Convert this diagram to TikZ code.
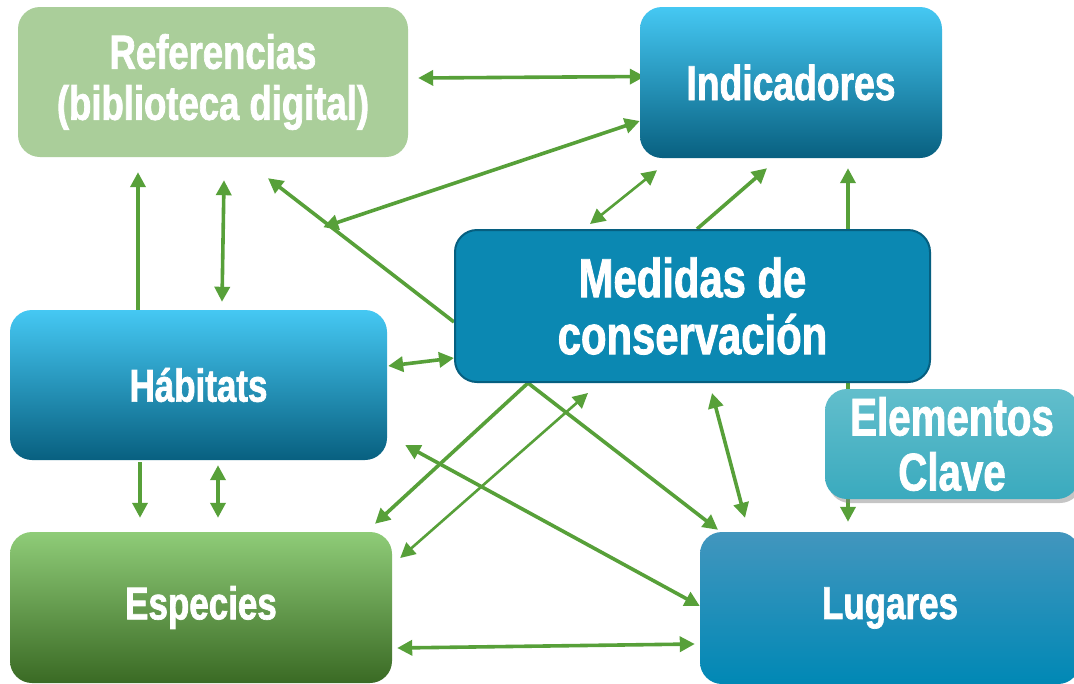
\documentclass[tikz,border=0pt]{standalone}
\usepackage{fontspec}
\newfontfamily\boxfont{Liberation Sans}[FakeStretch=0.76, BoldFeatures={FakeBold=1.5}]
\usetikzlibrary{arrows.meta,backgrounds,shadows}

\definecolor{refgreen}{RGB}{170,206,154}
\definecolor{linkgreen}{RGB}{87,160,57}
\definecolor{indtop}{RGB}{69,200,243}
\definecolor{indmid}{RGB}{16,150,196}
\definecolor{indbot}{RGB}{8,96,128}
\definecolor{medfill}{RGB}{11,136,178}
\definecolor{medline}{RGB}{6,95,128}
\definecolor{elemtop}{RGB}{98,190,204}
\definecolor{elembot}{RGB}{58,170,190}
\definecolor{esptop}{RGB}{143,204,120}
\definecolor{espmid}{RGB}{92,164,62}
\definecolor{espbot}{RGB}{58,106,36}
\definecolor{lugtop}{RGB}{66,150,190}
\definecolor{lugbot}{RGB}{0,136,181}

\tikzset{
  box/.style={rounded corners=22pt, inner sep=0pt, align=center,
    text=white, font=\boxfont\bfseries},
  link/.style={draw=linkgreen, line width=3.6pt},
  thinlink/.style={draw=linkgreen, line width=2.6pt},
  >={Triangle[length=15pt,width=15pt]}
}

\begin{document}
\begin{tikzpicture}[x=1pt,y=-1pt]
\useasboundingbox (0,0) rectangle (1074,683);
\clip (0,0) rectangle (1074,683);

% boxes
\node[box, fill=refgreen, minimum width=390pt, minimum height=150pt,
  font=\boxfont\bfseries\fontsize{48}{51}\selectfont]
  (ref) at (213,82) {Referencias\\(biblioteca digital)};
\node[box, top color=indtop, middle color=indmid, bottom color=indbot,
  minimum width=302pt, minimum height=151pt,
  font=\boxfont\bfseries\fontsize{49}{56}\selectfont]
  (ind) at (791,82.5) {Indicadores};
\node[box, fill=medfill, draw=medline, line width=2pt,
  minimum width=475pt, minimum height=152pt,
  font=\boxfont\bfseries\fontsize{55}{57}\selectfont]
  (med) at (692.5,306) {Medidas de\\conservación};
\node[box, top color=indtop, middle color=indmid, bottom color=indbot,
  minimum width=377pt, minimum height=150pt,
  font=\boxfont\bfseries\fontsize{46}{50}\selectfont]
  (hab) at (198.5,385) {Hábitats};
\node[box, top color=elemtop, bottom color=elembot,
  drop shadow={opacity=0.45, shadow xshift=3pt, shadow yshift=-4pt},
  minimum width=254pt, minimum height=110pt,
  font=\boxfont\bfseries\fontsize{53}{55}\selectfont]
  (elem) at (952,444) {Elementos\\Clave};
\node[box, top color=esptop, middle color=espmid, bottom color=espbot,
  minimum width=382pt, minimum height=151pt,
  font=\boxfont\bfseries\fontsize{46}{50}\selectfont]
  (esp) at (201,607.5) {Especies};
\node[box, top color=lugtop, bottom color=lugbot,
  minimum width=380pt, minimum height=152pt,
  font=\boxfont\bfseries\fontsize{46}{50}\selectfont]
  (lug) at (890,608) {Lugares};

% links
\begin{scope}[on background layer]
\fill[white] (0,0) rectangle (1074,683);
\draw[link, <->] ([shift={(10,-4)}]ref.east) -- ([shift={(5,-6)}]ind.west);
\draw[link, <->] ([shift={(-85,70)}]ref.south east) -- ([shift={(0,38.5)}]ind.west);
\draw[link, ->] ([shift={(0,16)}]med.west) -- ([shift={(55,21)}]ref.south);
\draw[link, ->] ([shift={(-60.5,0)}]hab.north) -- ([shift={(-75,15)}]ref.south);
\draw[link, <->] ([shift={(11,23)}]ref.south) -- ([shift={(23.5,-8)}]hab.north);
\draw[link, <->] ([shift={(1,-19)}]hab.east) -- ([shift={(0,52)}]med.west);
\draw[thinlink, <->] ([shift={(-102.5,-5)}]med.north) -- ([shift={(-134,12)}]ind.south);
\draw[link, ->] ([shift={(4.5,0)}]med.north) -- ([shift={(-24,10)}]ind.south);
\draw[link, <->] ([shift={(-42,-10)}]lug.north) -- ([shift={(57,10)}]ind.south);
\draw[link, ->] ([shift={(-164.5,0)}]med.south) -- ([shift={(174,-8)}]esp.north);
\draw[thinlink, <->] ([shift={(8,-49.5)}]esp.east) -- ([shift={(-104.5,10)}]med.south);
\draw[link, ->] ([shift={(-164.5,0)}]med.south) -- ([shift={(-172,-2)}]lug.north);
\draw[link, <->] ([shift={(18,60)}]hab.east) -- ([shift={(0,-2)}]lug.west);
\draw[link, <->] ([shift={(19.5,10)}]med.south) -- ([shift={(-145,-14)}]lug.north);
\draw[link, ->] ([shift={(-58.5,2)}]hab.south) -- ([shift={(-61,-14)}]esp.north);
\draw[link, <->] ([shift={(19.5,5)}]hab.south) -- ([shift={(17,-14)}]esp.north);
\draw[link, <->] ([shift={(5,40.5)}]esp.east) -- ([shift={(-5,36)}]lug.west);
\end{scope}

\end{tikzpicture}
\end{document}
